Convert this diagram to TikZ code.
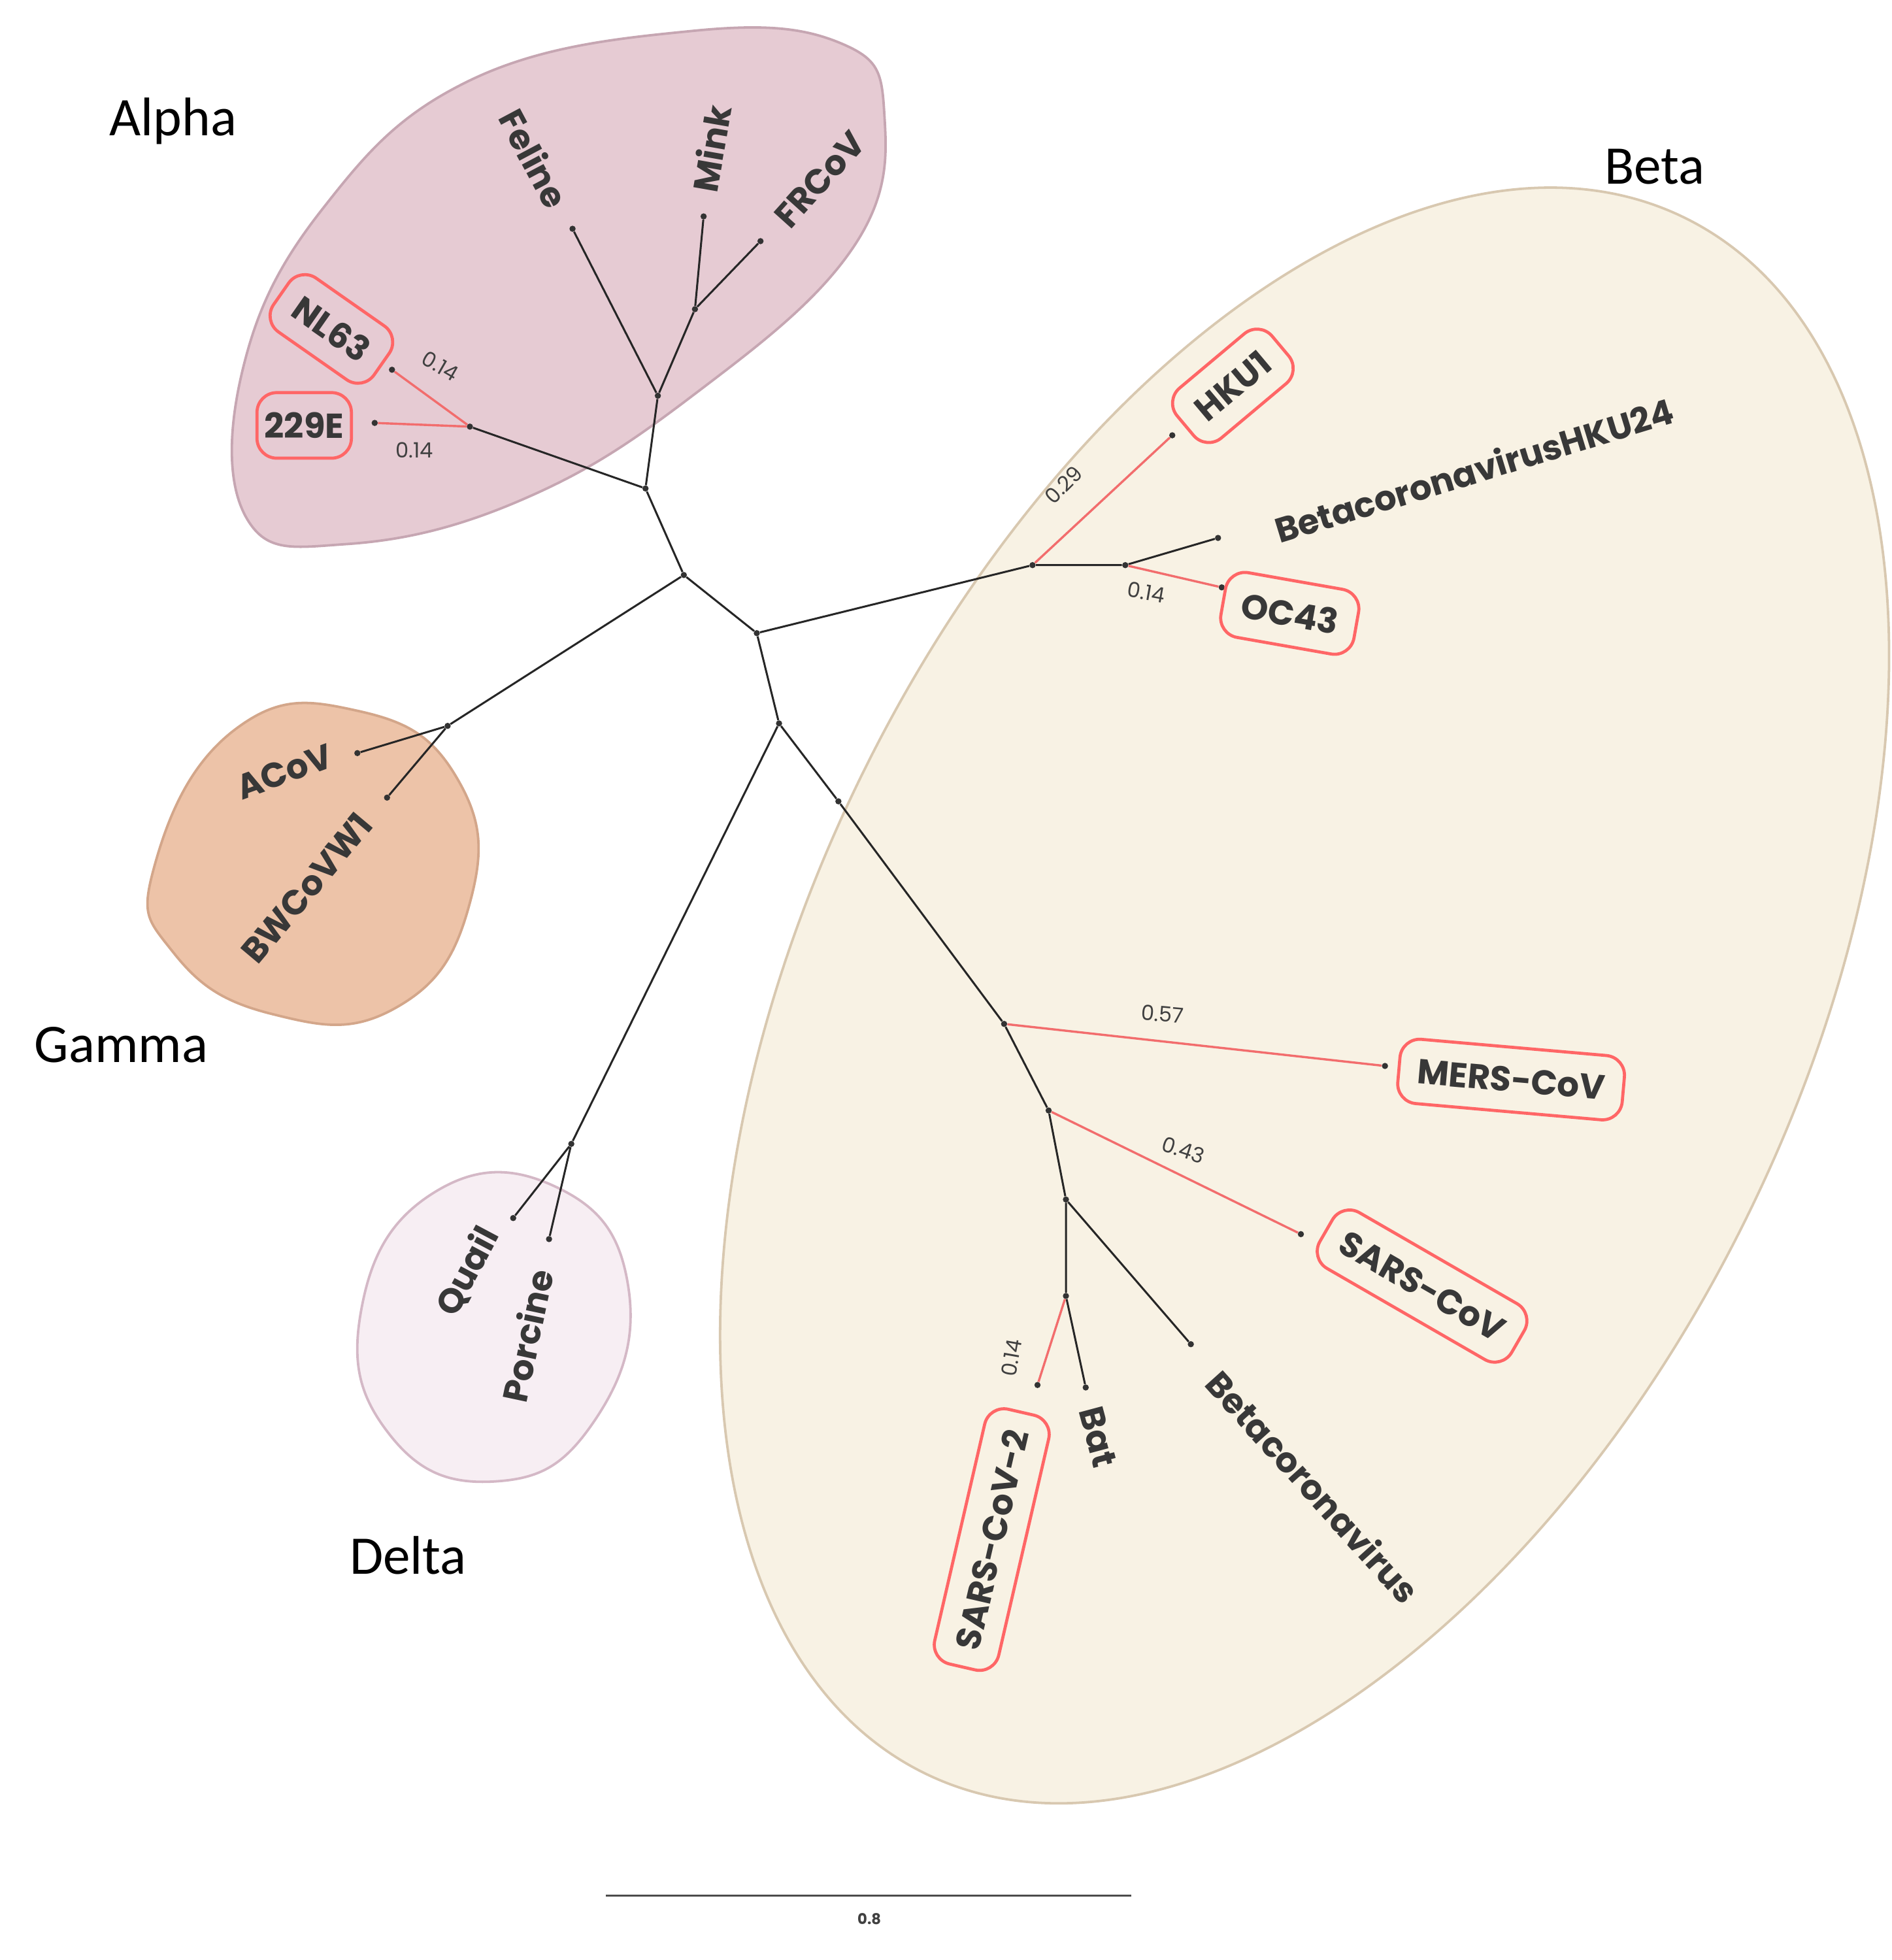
\documentclass[tikz,border=0pt]{standalone}
\usepackage{fontspec}
\setmainfont{Poppins}
\newfontfamily\grp{Carlito}
\begin{document}
\begin{tikzpicture}[x=1pt,y=-1pt,
  br/.style={line width=1.6pt,draw=black!85},
  rb/.style={line width=1.8pt,draw=red!55!white!95!black},
  dot/.style={circle,fill=black!80,inner sep=0pt,minimum size=5pt},
  leaf/.style={font=\fontsize{28}{28}\selectfont\bfseries,text=black!78,inner sep=4pt},
  boxed/.style={leaf,draw=red!60!white,line width=2.5pt,rounded corners=16pt,inner xsep=15pt,inner ysep=16pt},
  el/.style={font=\fontsize{17}{17}\selectfont,text=black!75},
  gl/.style={font=\grp\fontsize{44}{44}\selectfont,text=black}]
\useasboundingbox (0,0) rectangle (1530,1585);
\definecolor{afill}{HTML}{E6CBD3}\definecolor{aline}{HTML}{C6A6B2}
\definecolor{bfill}{HTML}{F8F2E4}\definecolor{bline}{HTML}{D8C8B0}
\definecolor{gfill}{HTML}{EDC3A8}\definecolor{gline}{HTML}{D3A68A}
\definecolor{dfill}{HTML}{F7EEF3}\definecolor{dline}{HTML}{D4B8C6}
% blobs
\draw[fill=afill,draw=aline,line width=2pt] plot[smooth cycle,tension=0.7] coordinates
 {(200,420) (196,300) (260,170) (380,65) (560,25) (680,35) (715,90) (690,200) (560,320) (420,405) (280,440)};
\draw[fill=bfill,draw=bline,line width=2pt,rotate around={64:(1055,805)}] (1055,805) ellipse [x radius=700,y radius=400];
\draw[fill=gfill,draw=gline,line width=2pt] plot[smooth cycle,tension=0.8] coordinates
 {(125,700) (190,590) (290,575) (370,630) (380,730) (320,815) (220,820) (140,770)};
\draw[fill=dfill,draw=dline,line width=2pt] plot[smooth cycle,tension=0.8] coordinates
 {(292,1060) (350,965) (450,960) (508,1040) (480,1150) (400,1198) (315,1160)};
% tree nodes
\foreach \n/\p in {fe/{463,185},mi/{569,175},fr/{615,195},mf/{562,250},a1/{532,320},a2/{522,395},nx/{380,345},nl/{317,299},ze/{303,342},
 r1/{553,465},r2/{612,512},gn/{362,587},ac/{289,609},bw/{313,645},r3/{630,585},dn/{462,925},qu/{415,985},po/{444,1002},
 bn/{835,457},hk/{948,352},on/{910,457},h24/{985,435},oc/{988,475},b1/{678,648},b2/{812,828},me/{1120,862},b3/{848,898},sa/{1052,998},
 b4/{862,970},bc/{963,1087},b5/{862,1048},s2/{839,1120},ba/{878,1122}}
 \node[dot] (\n) at (\p) {};
\draw[br] (fe)--(a1) (mi)--(mf) (fr)--(mf) (mf)--(a1) (a1)--(a2) (a2)--(nx) (a2)--(r1) (r1)--(gn) (gn)--(ac) (gn)--(bw)
 (r1)--(r2) (r2)--(r3) (r3)--(dn) (dn)--(qu) (dn)--(po) (r2)--(bn) (bn)--(on) (on)--(h24) (r3)--(b1) (b1)--(b2) (b2)--(b3) (b3)--(b4) (b4)--(bc) (b4)--(b5) (b5)--(ba);
\draw[rb] (nx)--(nl) (nx)--(ze) (bn)--(hk) (on)--(oc) (b2)--(me) (b3)--(sa) (b5)--(s2);
% leaf labels
\node[leaf,rotate=-62] at (432,128) {Feline};
\node[leaf,rotate=80] at (575,120) {Mink};
\node[leaf,rotate=48] at (663,145) {FRCoV};
\node[boxed,rotate=-35] at (268,266) {NL63};
\node[boxed,inner xsep=6pt] at (246,344) {229E};
\node[boxed,rotate=40] at (997,312) {HKU1};
\node[leaf,rotate=17] at (1192,380) {BetacoronavirusHKU24};
\node[boxed,rotate=-10] at (1043,496) {OC43};
\node[boxed,rotate=-5] at (1222,873) {MERS-CoV};
\node[boxed,rotate=-30] at (1150,1040) {SARS-CoV};
\node[boxed,rotate=77] at (802,1245) {SARS-CoV-2};
\node[leaf,rotate=-75] at (888,1162) {Bat};
\node[leaf,rotate=-48] at (1062,1202) {Betacoronavirus};
\node[leaf,rotate=20] at (230,624) {ACoV};
\node[leaf,rotate=50] at (248,718) {BWCoVW1};
\node[leaf,rotate=62] at (378,1028) {Quail};
\node[leaf,rotate=78] at (426,1080) {Porcine};
% edge labels
\node[el,rotate=-30] at (356,296) {0.14};
\node[el] at (335,364) {0.14};
\node[el,rotate=45] at (860,392) {0.29};
\node[el,rotate=-10] at (927,479) {0.14};
\node[el,rotate=-5] at (940,820) {0.57};
\node[el,rotate=-18] at (957,930) {0.43};
\node[el,rotate=80] at (818,1098) {0.14};
% group labels
\node[gl] at (140,98) {Alpha};
\node[gl] at (1338,135) {Beta};
\node[gl] at (98,845) {Gamma};
\node[gl] at (330,1258) {Delta};
% scale bar
\coordinate (s1) at (490,1533); \coordinate (s2b) at (915,1533);
\draw[line width=1.3pt,black!70] (s1)--(s2b);
\node[font=\fontsize{12}{12}\selectfont\bfseries,text=black!75] at (703,1552) {0.8};
\end{tikzpicture}
\end{document}
